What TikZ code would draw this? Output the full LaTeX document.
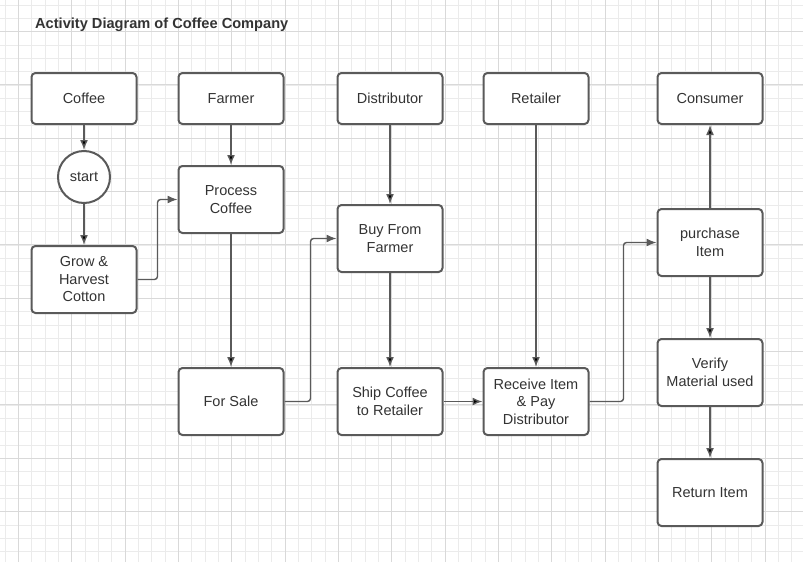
\documentclass[tikz,border=0pt]{standalone}
\usepackage{fontspec}
\setmainfont{Liberation Sans}
\usepackage{tikz}
\usetikzlibrary{positioning,arrows.meta}
\definecolor{linegray}{HTML}{5A5A5A}
\definecolor{textgray}{HTML}{333333}
\definecolor{minorgray}{HTML}{EBEBEB}
\definecolor{majorgray}{HTML}{D9D9D9}
\tikzstyle{minorgrid}=[draw=minorgray,line width=0.8pt]
\tikzstyle{majorgrid}=[draw=majorgray,line width=0.9pt]
\tikzstyle{lane}=[draw=linegray,line width=2pt,rounded corners=4pt,fill=white,
                minimum width=105pt,minimum height=51pt,align=center,inner sep=2pt,
                text=textgray,font=\fontsize{14.5}{17.5}\selectfont]
\tikzstyle{act}=[lane,minimum height=67pt]
\tikzstyle{strt}=[lane,circle,minimum size=52pt,inner sep=0]
\tikzstyle{flow}=[draw=linegray,line width=1.4pt,rounded corners=3pt,
                -{Latex[length=10pt,width=8pt]}]

\begin{document}
\begin{tikzpicture}[x=1pt,y=-1pt]
  \useasboundingbox (0,0) rectangle (803,562);
  % background grid
  \foreach \i in {0,...,60} \draw[minorgrid] ({5+13.333*\i},0) -- ++(0,562);
  \foreach \i in {0,...,41} \draw[minorgrid] (0,{5+13.333*\i}) -- ++(803,0);
  \foreach \i in {0,...,14} \draw[majorgrid] ({18.3+53.333*\i},0) -- ++(0,562);
  \foreach \i in {0,...,9} \draw[majorgrid] (0,{31.6+53.333*\i}) -- ++(803,0);

  \node[anchor=west,text=textgray,inner sep=0,font=\bfseries\fontsize{14.6}{16}\selectfont] (title) at (35,25)
    {Activity Diagram of Coffee Company};

  % lanes
  \node[lane] (coffee) at (84,98.5) {Coffee};
  \node[lane,right=40pt of coffee] (farmer) {Farmer};
  \node[lane,right=52pt of farmer] (distributor) {Distributor};
  \node[lane,right=39pt of distributor] (retailer) {Retailer};
  \node[lane,right=67pt of retailer] (consumer) {Consumer};

  % activities
  \node[strt,below=25pt of coffee] (start) {start};
  \node[act,below=41pt of start] (grow) {Grow \&\\Harvest\\Cotton};
  \node[act,below=40pt of farmer] (process) {Process\\Coffee};
  \node[act,below=133pt of process] (forsale) {For Sale};
  \node[act,below=79pt of distributor] (buy) {Buy From\\Farmer};
  \node[act,below=94pt of buy] (ship) {Ship Coffee\\to Retailer};
  \node[act,right=39pt of ship] (receive) {Receive Item\\\& Pay\\Distributor};
  \node[act,below=83pt of consumer] (purchase) {purchase\\Item};
  \node[act,below=61pt of purchase] (verify) {Verify\\Material used};
  \node[act,below=51pt of verify] (return) {Return Item};

  % flows
  \path[flow] (coffee) edge (start)
              (start) edge (grow)
              (farmer) edge (process)
              (process) edge (forsale)
              (distributor) edge (buy)
              (buy) edge (ship)
              (ship) edge (receive)
              (retailer) edge (receive)
              (purchase) edge (consumer)
              (purchase) edge (verify)
              (verify) edge (return);
  \draw[flow] (grow.east) -- ++(20,0) |- (process.west);
  \draw[flow] (forsale.east) -- ++(26,0) |- (buy.west);
  \draw[flow] (receive.east) -- ++(34,0) |- (purchase.west);
\end{tikzpicture}
\end{document}
